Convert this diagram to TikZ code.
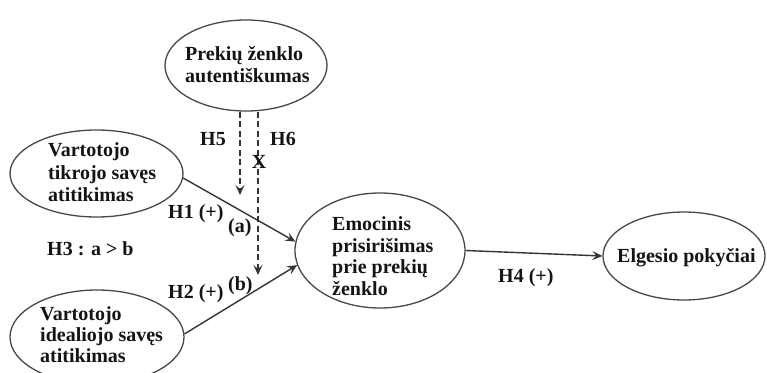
\documentclass[tikz,border=0pt]{standalone}
\usepackage{fontspec}
\setmainfont{Liberation Serif}
\usetikzlibrary{shapes.geometric,arrows.meta}

\begin{document}
\begin{tikzpicture}[
  x=1pt, y=-1pt,
  construct/.style={ellipse, draw=black!72, line width=1.3pt, inner sep=0pt},
  txt/.style={anchor=base west, inner sep=0pt, align=left,
    font=\fontsize{20}{22}\selectfont\bfseries, text=black!92},
  lbl/.style={anchor=base west, inner sep=0pt,
    font=\fontsize{20}{22}\selectfont\bfseries, text=black!92},
  path/.style={draw=black!80, line width=1.4pt,
    -{Stealth[length=10pt,width=9pt,inset=4pt]}},
  moderation/.style={path, dash pattern=on 6pt off 3.5pt}
]
\clip (0,0) rectangle (767,372);

% constructs
\node[construct, minimum width=162pt, minimum height=91pt]  (auth) at (246,65.5) {};
\node[construct, minimum width=173pt, minimum height=87pt]  (real) at (96.5,173.5) {};
\node[construct, minimum width=174pt, minimum height=94pt]  (ideal) at (97,337) {};
\node[construct, minimum width=170pt, minimum height=115pt] (attach) at (380,250.5) {};
\node[construct, minimum width=162pt, minimum height=88pt]  (behav) at (684,256) {};

% construct names
\node[txt] (tauth1) at (185,60) {Prekių ženklo};
\node[txt] (tauth2) at (185,82) {autentiškumas};
\node[txt] (treal1) at (48,156) {Vartotojo};
\node[txt] (treal2) at (48,179) {tikrojo savęs};
\node[txt] (treal3) at (48,201) {atitikimas};
\node[txt] (tideal1) at (40,320) {Vartotojo};
\node[txt] (tideal2) at (40,341) {idealiojo savęs};
\node[txt] (tideal3) at (40,362) {atitikimas};
\node[txt] (tatt1) at (332,230) {Emocinis};
\node[txt] (tatt2) at (332,252) {prisirišimas};
\node[txt] (tatt3) at (332,273) {prie prekių};
\node[txt] (tatt4) at (332,295) {ženklo};
\node[txt] (tbeh) at (617,262) {Elgesio pokyčiai};

% direct effects
\draw[path] (real.-3) -- (attach.174);
\draw[path] (ideal.2) -- (attach.190);
\draw[path] (attach.east) -- (behav.west);

% moderating effects
\coordinate (h5tip) at (240,195);
\coordinate (h6tip) at (258,275);
\draw[moderation] (h5tip |- auth.south) -- (h5tip);
\draw[moderation] (h6tip |- auth.south) -- (h6tip);

% hypothesis labels
\node[lbl] (h5) at (200,145) {H5};
\node[lbl] (h6) at (270,145) {H6};
\node[lbl, anchor=base] (nx) at (259,168) {X};
\node[lbl] (h1) at (168,218) {H1 (+)};
\node[lbl] (la) at (228,232) {(a)};
\node[lbl] (h3) at (47,255) {H3 : a > b};
\node[lbl] (h2) at (168,298) {H2 (+)};
\node[lbl] (lb) at (228,290) {(b)};
\node[lbl] (h4) at (498,282) {H4 (+)};
\end{tikzpicture}
\end{document}
